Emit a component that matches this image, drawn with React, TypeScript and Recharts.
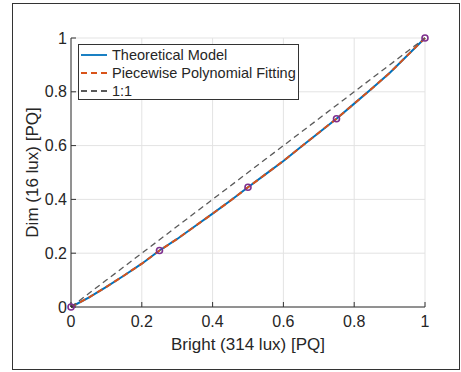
import { CartesianGrid, ComposedChart, Label, Legend, Line, XAxis, YAxis } from "recharts";

// PQ mapping: bright surround (314 lux) -> dim surround (16 lux)
const xValues = [0, 0.05, 0.1, 0.15, 0.2, 0.25, 0.3, 0.35, 0.4, 0.45, 0.5, 0.55, 0.6, 0.65, 0.7, 0.75, 0.8, 0.85, 0.9, 0.95, 1];
const theoreticalModel = [0, 0.035, 0.075, 0.117, 0.161, 0.21, 0.253, 0.3, 0.347, 0.395, 0.445, 0.494, 0.543, 0.596, 0.648, 0.7, 0.756, 0.812, 0.87, 0.935, 1];
const polynomialFit = [0, 0.035, 0.075, 0.117, 0.161, 0.21, 0.253, 0.3, 0.347, 0.395, 0.445, 0.494, 0.543, 0.596, 0.648, 0.7, 0.756, 0.812, 0.87, 0.935, 1];
const identityLine = [0, 0.05, 0.1, 0.15, 0.2, 0.25, 0.3, 0.35, 0.4, 0.45, 0.5, 0.55, 0.6, 0.65, 0.7, 0.75, 0.8, 0.85, 0.9, 0.95, 1];
const knotX = [0, 0.25, 0.5, 0.75, 1];
const knotY = [0, 0.21, 0.445, 0.7, 1];
const axisTicks = [0, 0.2, 0.4, 0.6, 0.8, 1];
const legendOrder = ["Theoretical Model", "Piecewise Polynomial Fitting", "1:1"];

const data = xValues.map((x, i) => {
  const k = knotX.indexOf(x);
  return {
    x,
    model: theoreticalModel[i],
    fit: polynomialFit[i],
    identity: identityLine[i],
    knot: k >= 0 ? knotY[k] : null,
  };
});

const FONT = '"Liberation Sans", Arial, Helvetica, sans-serif';
const INK = "#262626";
const AXIS = "#333";
const TICK_FONT = 16;

function LegendBox({ payload }: any) {
  const entries = legendOrder
    .map((name) => (payload || []).find((e: any) => e.value === name))
    .filter(Boolean);
  return (
    <div
      style={{
        border: `1px solid ${AXIS}`,
        background: "#fff",
        width: 221,
        height: 56,
        boxSizing: "border-box",
        padding: "1px 0 0 2px",
        fontFamily: FONT,
        fontSize: 14.5,
        color: INK,
      }}
    >
      {entries.map((entry: any) => (
        <div key={entry.value} style={{ display: "flex", alignItems: "center", height: 18 }}>
          <svg width={28} height={10} style={{ marginRight: 3 }}>
            <line
              x1={0}
              y1={5}
              x2={26}
              y2={5}
              stroke={entry.color}
              strokeWidth={1.8}
              strokeDasharray={entry.payload?.strokeDasharray}
            />
          </svg>
          <span>{entry.value}</span>
        </div>
      ))}
    </div>
  );
}

export default function App() {
  return (
    <div style={{ position: "absolute", left: 0, top: 0, width: 461, height: 372, background: "#fff" }}>
      <div
        style={{
          position: "absolute",
          left: 12,
          top: 3,
          width: 448,
          height: 367,
          border: "1px solid #333",
          boxSizing: "border-box",
        }}
      />
      <ComposedChart
        width={461}
        height={372}
        data={data}
        margin={{ top: 38, right: 36, bottom: 0, left: 0 }}
        style={{ position: "absolute", left: 0, top: 0, fontFamily: FONT }}
      >
        <CartesianGrid xAxisId="bottom" yAxisId="left" stroke="#e3e3e3" strokeWidth={1} />
        <XAxis
          xAxisId="bottom"
          dataKey="x"
          type="number"
          domain={[0, 1]}
          ticks={axisTicks}
          interval={0}
          height={65}
          stroke={AXIS}
          tickSize={-5}
          tickMargin={14}
          fontSize={TICK_FONT}
          tick={{ fill: INK, fontSize: TICK_FONT }}
          tickFormatter={(v: number) => String(v)}
        >
          <Label value="Bright (314 lux) [PQ]" position="insideBottom" offset={22} style={{ fill: INK, fontSize: 17 }} />
        </XAxis>
        <XAxis
          xAxisId="top"
          dataKey="x"
          type="number"
          orientation="top"
          domain={[0, 1]}
          ticks={axisTicks}
          interval={0}
          height={0}
          stroke={AXIS}
          tickSize={-5}
          tickFormatter={() => ""}
        />
        <YAxis
          yAxisId="left"
          type="number"
          domain={[0, 1]}
          ticks={axisTicks}
          interval={0}
          width={71}
          stroke={AXIS}
          tickSize={-5}
          tickMargin={9}
          fontSize={TICK_FONT}
          tick={{ fill: INK, fontSize: TICK_FONT }}
          tickFormatter={(v: number) => String(v)}
        >
          <Label
            value="Dim (16 lux) [PQ]"
            angle={-90}
            position="insideLeft"
            offset={32}
            style={{ fill: INK, fontSize: 17, textAnchor: "middle" }}
          />
        </YAxis>
        <YAxis
          yAxisId="right"
          type="number"
          orientation="right"
          domain={[0, 1]}
          ticks={axisTicks}
          interval={0}
          width={0}
          stroke={AXIS}
          tickSize={-5}
          tickFormatter={() => ""}
        />
        <Legend
          layout="vertical"
          align="center"
          verticalAlign="middle"
          content={<LegendBox />}
          wrapperStyle={{ position: "absolute", left: 78, top: 44, width: 221, height: 56 }}
        />
        <Line
          xAxisId="bottom"
          yAxisId="left"
          name="Theoretical Model"
          dataKey="model"
          stroke="#0072BD"
          strokeWidth={2}
          dot={false}
          isAnimationActive={false}
        />
        <Line
          xAxisId="bottom"
          yAxisId="left"
          name="Piecewise Polynomial Fitting"
          dataKey="fit"
          stroke="#D95319"
          strokeWidth={2}
          strokeDasharray="6 4"
          dot={false}
          isAnimationActive={false}
        />
        <Line
          xAxisId="bottom"
          yAxisId="left"
          name="1:1"
          dataKey="identity"
          stroke="#5a5a5a"
          strokeWidth={1.3}
          strokeDasharray="6 4"
          dot={false}
          isAnimationActive={false}
        />
        <Line
          xAxisId="bottom"
          yAxisId="left"
          name="Knots"
          dataKey="knot"
          stroke="none"
          legendType="none"
          dot={{ r: 3, stroke: "#7E2F8E", strokeWidth: 1.6, fill: "none" }}
          isAnimationActive={false}
        />
      </ComposedChart>
    </div>
  );
}
